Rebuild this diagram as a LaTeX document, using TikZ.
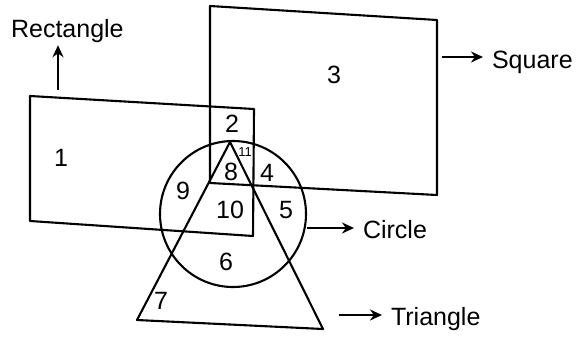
\documentclass[tikz,border=0pt]{standalone}
\usepackage{fontspec}
\setmainfont{Liberation Sans}
\usetikzlibrary{arrows.meta, positioning}

\begin{document}
\begin{tikzpicture}[
  x=1pt, y=-1pt,
  >={Stealth[length=12pt, width=11pt]},
  line width=2.1pt, line join=round,
  num/.style={inner sep=0pt, font=\fontsize{25}{28}\selectfont},
  tiny/.style={inner sep=0pt, font=\fontsize{13}{15}\selectfont},
  lab/.style={inner xsep=8pt, inner ysep=2pt, anchor=base west, font=\fontsize{25}{30}\selectfont}
]
  \useasboundingbox (0,0) rectangle (577,338);
  % the four figures
  \draw (30,96) -- (254,109) -- (253,236) -- (30,221) -- cycle;
  \draw (210,6) -- (437,20) -- (437,195) -- (210,183) -- cycle;
  \draw (233,214) circle[radius=73pt];
  \draw (230,142) -- (137,320) -- (323,329) -- cycle;
  % regions
  \node[num] (r1) at (61,158) {1};
  \node[num] (r2) at (232,124) {2};
  \node[num] (r3) at (334,75) {3};
  \node[num] (r4) at (267,173) {4};
  \node[num] (r5) at (286,210) {5};
  \node[num] (r6) at (226,262) {6};
  \node[num] (r7) at (161,301) {7};
  \node[num] (r8) at (231,172) {8};
  \node[num] (r9) at (183,191) {9};
  \node[num] (r10) at (230,210) {10};
  \node[tiny] (r11) at (245,152) {11};
  % names
  \node[lab] (rect) at (2,37) {Rectangle};
  \node[lab] (sq) at (483,68) {Square};
  \node[lab] (circ) at (354,238) {Circle};
  \node[lab] (tri) at (382,325) {Triangle};
  \coordinate (rtail) at (58,90);
  \coordinate (stail) at (442,57);
  \coordinate (ctail) at (307,228);
  \coordinate (ttail) at (339,315);
  \draw[->] (rtail) -- (rtail |- rect.south);
  \draw[->] (stail) -- (stail -| sq.west);
  \draw[->] (ctail) -- (ctail -| circ.west);
  \draw[->] (ttail) -- (ttail -| tri.west);
\end{tikzpicture}
\end{document}
